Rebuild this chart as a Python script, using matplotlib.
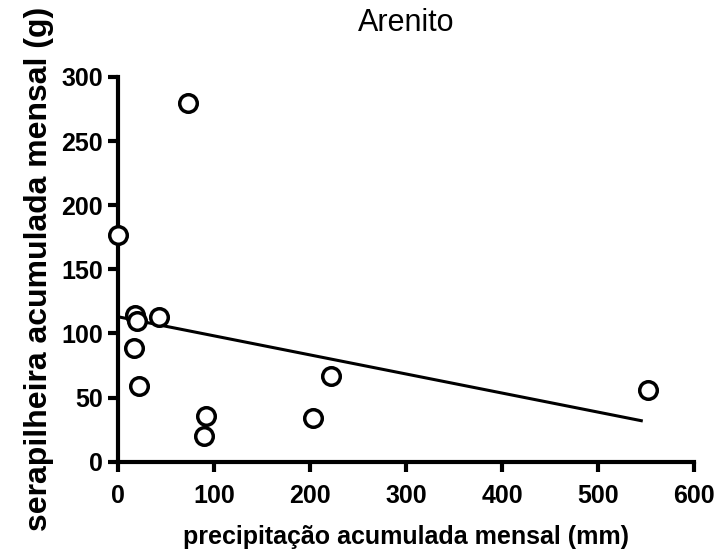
import matplotlib
matplotlib.use("Agg")
import matplotlib.pyplot as plt

# data
precip = [0, 73, 18, 20, 43, 17, 22, 92, 89, 222, 203, 552]
litter = [177, 280, 114, 110, 113, 89, 59, 36, 20, 67, 34, 56]
fit_x = [0, 545]
fit_y = [113, 32]
x_ticks = [0, 100, 200, 300, 400, 500, 600]
y_ticks = [0, 50, 100, 150, 200, 250, 300]

plt.rcParams["font.family"] = ["Liberation Sans", "DejaVu Sans"]

fig = plt.figure(figsize=(7.2, 5.57), dpi=100)
ax = fig.add_axes([0.164, 0.171, 0.8, 0.691])

ax.plot(fit_x, fit_y, color="black", linewidth=2.2, zorder=2)
ax.scatter(precip, litter, s=160, facecolors="white", edgecolors="black",
           linewidths=2.5, zorder=3, clip_on=False)

ax.set_xlim(0, 600)
ax.set_ylim(0, 300)
ax.set_xticks(x_ticks)
ax.set_yticks(y_ticks)

for side in ("top", "right"):
    ax.spines[side].set_visible(False)
for side in ("left", "bottom"):
    ax.spines[side].set_linewidth(3)
ax.tick_params(width=3, length=7, labelsize=18)
ax.tick_params(axis="x", pad=9)
ax.tick_params(axis="y", pad=4)
for lab in ax.get_xticklabels() + ax.get_yticklabels():
    lab.set_fontweight("bold")

ax.set_xlabel("precipitação acumulada mensal (mm)", fontsize=18,
              fontweight="bold", labelpad=12)
ax.set_ylabel("serapilheira acumulada mensal (g)", fontsize=23,
              fontweight="bold", labelpad=5)
ax.set_title("Arenito", fontsize=22, pad=33)

fig.savefig("out.png", dpi=100, facecolor="white")
